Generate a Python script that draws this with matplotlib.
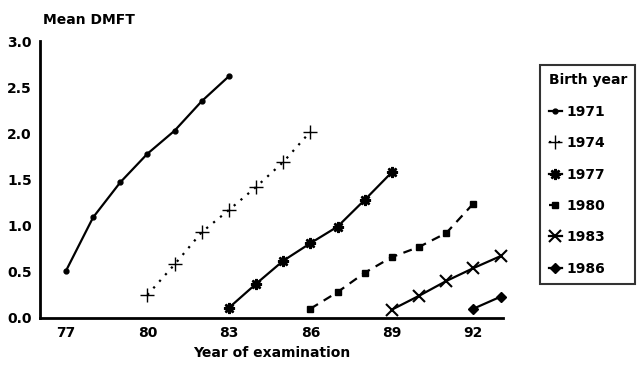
#!/usr/bin/env python3
# Mean DMFT by year of examination, one line per birth cohort.
import matplotlib
matplotlib.use("Agg")
import matplotlib.pyplot as plt

plt.rcParams["font.family"] = ["DejaVu Sans"]
plt.rcParams["font.weight"] = "bold"

years_1971 = [77, 78, 79, 80, 81, 82, 83]
dmft_1971 = [0.51, 1.09, 1.47, 1.78, 2.03, 2.35, 2.62]
years_1974 = [80, 81, 82, 83, 84, 85, 86]
dmft_1974 = [0.25, 0.58, 0.93, 1.17, 1.42, 1.69, 2.02]
years_1977 = [83, 84, 85, 86, 87, 88, 89]
dmft_1977 = [0.11, 0.37, 0.62, 0.81, 0.99, 1.28, 1.58]
years_1980 = [86, 87, 88, 89, 90, 91, 92]
dmft_1980 = [0.10, 0.28, 0.49, 0.66, 0.77, 0.92, 1.24]
years_1983 = [89, 90, 91, 92, 93]
dmft_1983 = [0.09, 0.24, 0.40, 0.54, 0.67]
years_1986 = [92, 93]
dmft_1986 = [0.10, 0.23]

x_ticks = [77, 80, 83, 86, 89, 92]
y_ticks = [0.0, 0.5, 1.0, 1.5, 2.0, 2.5, 3.0]

series = [
    ("1971", years_1971, dmft_1971, dict(marker="o", markersize=3.5, linestyle="-")),
    ("1974", years_1974, dmft_1974, dict(marker="+", markersize=10, markeredgewidth=1.0, linestyle=(0, (1, 3)))),
    ("1977", years_1977, dmft_1977, dict(marker=(8, 2, 0), markersize=8, markeredgewidth=1.8, linestyle="-")),
    ("1980", years_1980, dmft_1980, dict(marker="s", markersize=5, linestyle=(0, (4, 3)))),
    ("1983", years_1983, dmft_1983, dict(marker="x", markersize=9, markeredgewidth=1.5, linestyle="-")),
    ("1986", years_1986, dmft_1986, dict(marker="D", markersize=5, linestyle="-")),
]

fig = plt.figure(figsize=(6.37, 3.68), dpi=100)
ax = fig.add_axes([0.063, 0.136, 0.727, 0.752])

for label, xs, ys, style in series:
    ax.plot(xs, ys, color="black", linewidth=1.6, label=label, clip_on=False, **style)

ax.set_xlim(76.05, 93.1)
ax.set_ylim(0, 3.0)
ax.set_xticks(x_ticks)
ax.set_xticklabels([str(t) for t in x_ticks])
ax.set_yticks(y_ticks)
ax.set_yticklabels([f"{t:.1f}" for t in y_ticks])
ax.tick_params(length=0, labelsize=10, pad=6)
for spine in ("top", "right"):
    ax.spines[spine].set_visible(False)
for spine in ("left", "bottom"):
    ax.spines[spine].set_linewidth(2)

ax.set_xlabel("Year of examination", fontsize=10, fontweight="bold", labelpad=4)
fig.text(0.068, 0.945, "Mean DMFT", fontsize=10, fontweight="bold", ha="left", va="center")

leg = fig.legend(
    loc="upper left", bbox_to_anchor=(0.848, 0.823), borderaxespad=0,
    title="Birth year", frameon=True, fancybox=False, edgecolor="black",
    handlelength=1.0, handletextpad=0.3, labelspacing=1.25, borderpad=0.6,
    fontsize=10, title_fontproperties={"weight": "bold", "size": 10},
)
leg.get_frame().set_linewidth(1.5)
leg._legend_box.align = "left"

fig.savefig("out.png", dpi=100)
